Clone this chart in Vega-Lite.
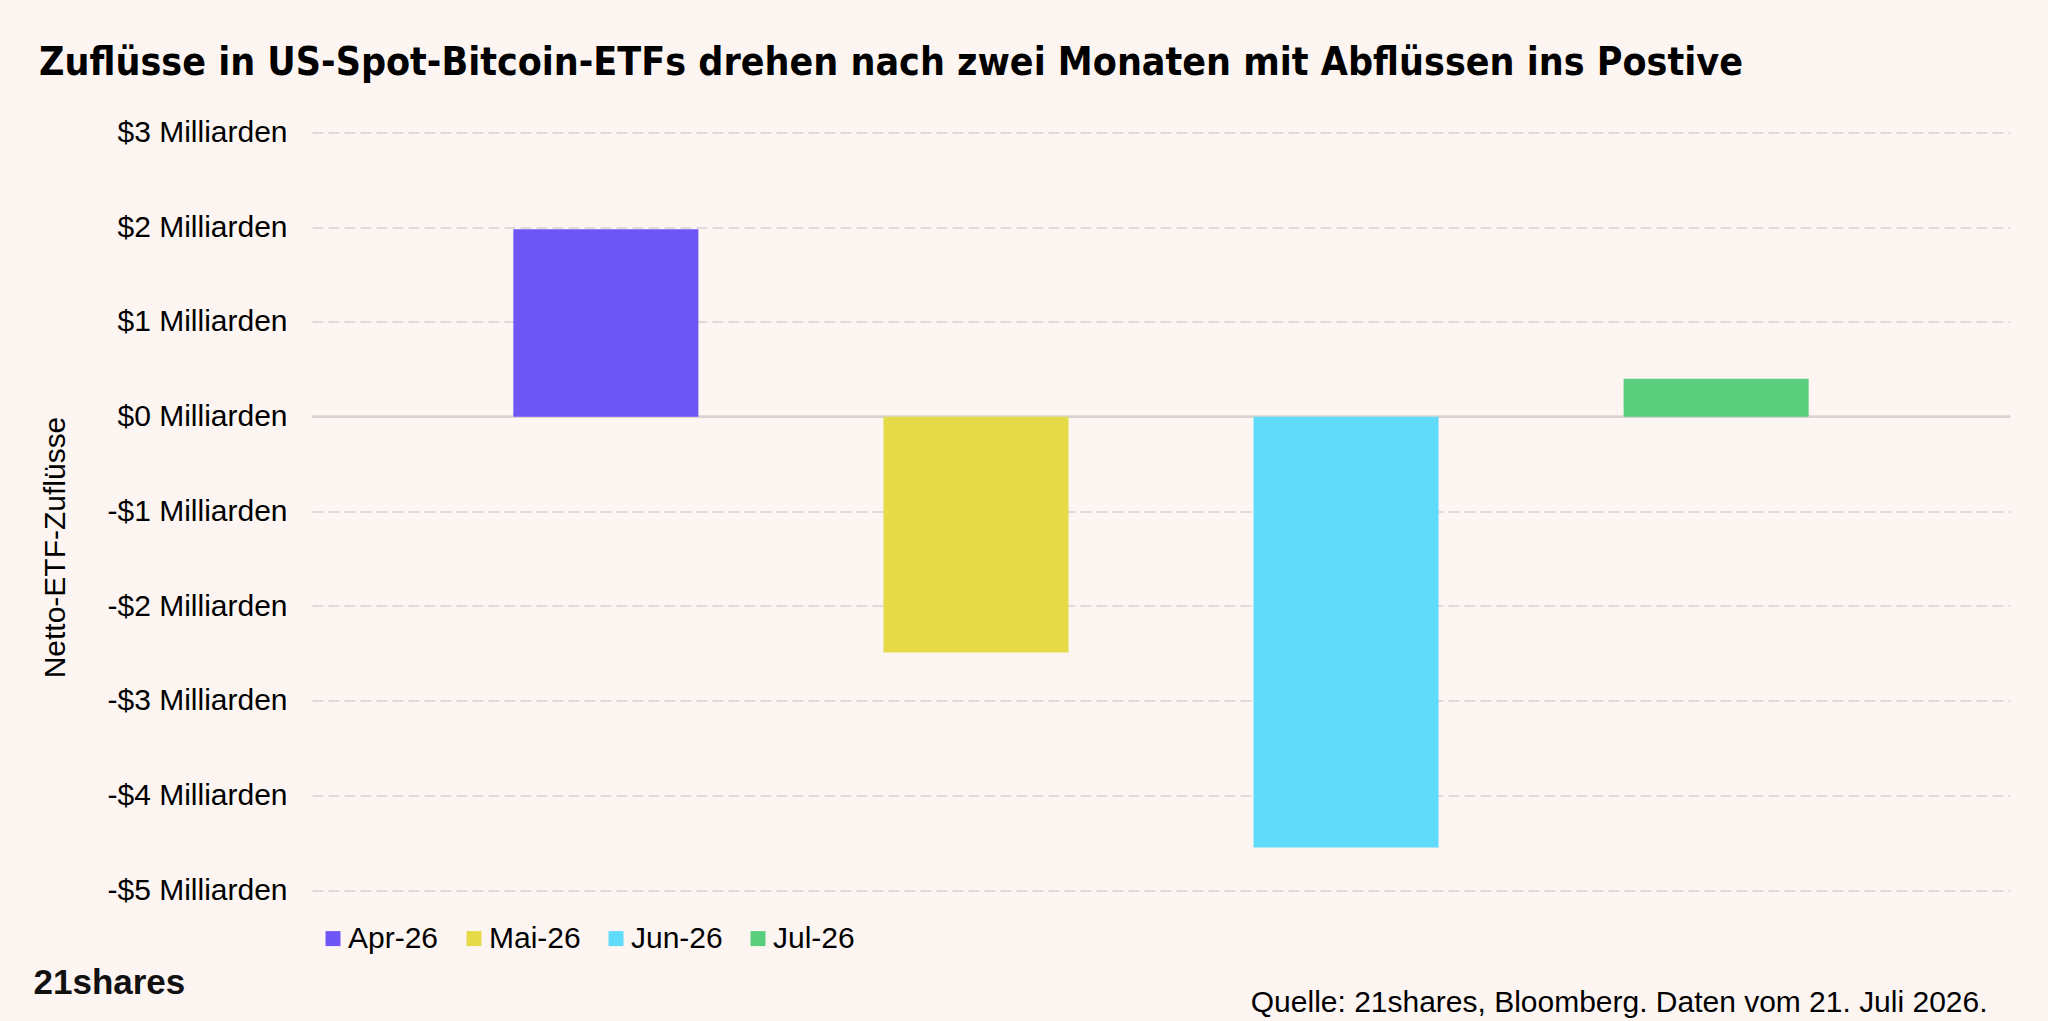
{
  "$schema": "https://vega.github.io/schema/vega-lite/v6.json",
  "width": 1698,
  "height": 757.5,
  "autosize": "none",
  "padding": {"left": 312, "top": 132.6, "right": 38, "bottom": 131},
  "background": "#FDF5F2",
  "title": {
    "text": "Zuflüsse in US-Spot-Bitcoin-ETFs drehen nach zwei Monaten mit Abflüssen ins Postive",
    "anchor": "start",
    "frame": "group",
    "dx": -273,
    "offset": 4,
    "baseline": "alphabetic",
    "font": "Liberation Sans Narrow, DejaVu Sans Condensed, sans-serif",
    "fontSize": 39,
    "fontWeight": "bold",
    "color": "#000000"
  },
  "data": {
    "values": [
      {"Monat": "Apr-26", "Zufluss": 1.98},
      {"Monat": "Mai-26", "Zufluss": -2.49},
      {"Monat": "Jun-26", "Zufluss": -4.55},
      {"Monat": "Jul-26", "Zufluss": 0.4}
    ]
  },
  "config": {
    "view": {"stroke": null},
    "font": "Liberation Sans"
  },
  "layer": [
    {
      "mark": {"type": "rule", "color": "#d8d3d0", "strokeWidth": 2},
      "encoding": {
        "y": {
          "datum": 0,
          "type": "quantitative",
          "scale": {"domain": [-5, 3], "nice": false},
          "axis": {
            "orient": "right",
            "labels": false,
            "ticks": false,
            "domain": false,
            "grid": false,
            "title": "Quelle: 21shares, Bloomberg. Daten vom 21. Juli 2026.",
            "titleFont": "Liberation Sans",
            "titleFontSize": 30,
            "titleFontWeight": "normal",
            "titleColor": "#000000",
            "titleAngle": 0,
            "titleAlign": "right",
            "titleBaseline": "alphabetic",
            "titleX": -23,
            "titleY": 879.4
          }
        }
      }
    },
    {
      "mark": {"type": "bar"},
      "encoding": {
        "x": {
          "field": "Monat",
          "type": "nominal",
          "sort": null,
          "scale": {"paddingInner": 0.5, "paddingOuter": 0.544},
          "axis": {
            "labels": false,
            "ticks": false,
            "domain": false,
            "grid": false,
            "title": "21shares",
            "titleFont": "Liberation Sans",
            "titleFontSize": 35,
            "titleFontWeight": "bold",
            "titleColor": "#111111",
            "titleAlign": "left",
            "titleBaseline": "alphabetic",
            "titleX": -279,
            "titleY": 103
          }
        },
        "y": {
          "field": "Zufluss",
          "type": "quantitative",
          "scale": {"domain": [-5, 3], "nice": false},
          "axis": {
            "orient": "left",
            "values": [-5, -4, -3, -2, -1, 0, 1, 2, 3],
            "labelExpr": "(datum.value < 0 ? '-$' : '$') + abs(datum.value) + ' Milliarden'",
            "labelFont": "Liberation Sans",
            "labelFontSize": 30,
            "labelColor": "#000000",
            "labelPadding": 25,
            "labelLimit": 400,
            "ticks": false,
            "domain": false,
            "grid": true,
            "gridDash": [11, 5],
            "gridColor": "#dedad7",
            "gridWidth": 2,
            "title": "Netto-ETF-Zuflüsse",
            "titleFont": "Liberation Sans",
            "titleFontSize": 30,
            "titleFontWeight": "normal",
            "titleColor": "#000000",
            "titleAngle": -90,
            "titleAlign": "center",
            "titleBaseline": "middle",
            "titleX": -257,
            "titleY": 414.4
          }
        },
        "color": {
          "field": "Monat",
          "type": "nominal",
          "sort": null,
          "scale": {
            "domain": ["Apr-26", "Mai-26", "Jun-26", "Jul-26"],
            "range": ["#6E56F7", "#E5DB48", "#61DBFA", "#5BCE7E"]
          },
          "legend": {
            "title": null,
            "orient": "none",
            "direction": "horizontal",
            "columns": 4,
            "gridAlign": "none",
            "legendX": 6,
            "legendY": 791,
            "symbolType": "square",
            "symbolSize": 225,
            "symbolStrokeWidth": 0,
            "symbolOpacity": 1,
            "labelFont": "Liberation Sans",
            "labelFontSize": 30,
            "labelColor": "#000000",
            "labelOffset": 0,
            "columnPadding": 20
          }
        }
      }
    }
  ],
  "resolve": {"axis": {"y": "independent"}}
}
